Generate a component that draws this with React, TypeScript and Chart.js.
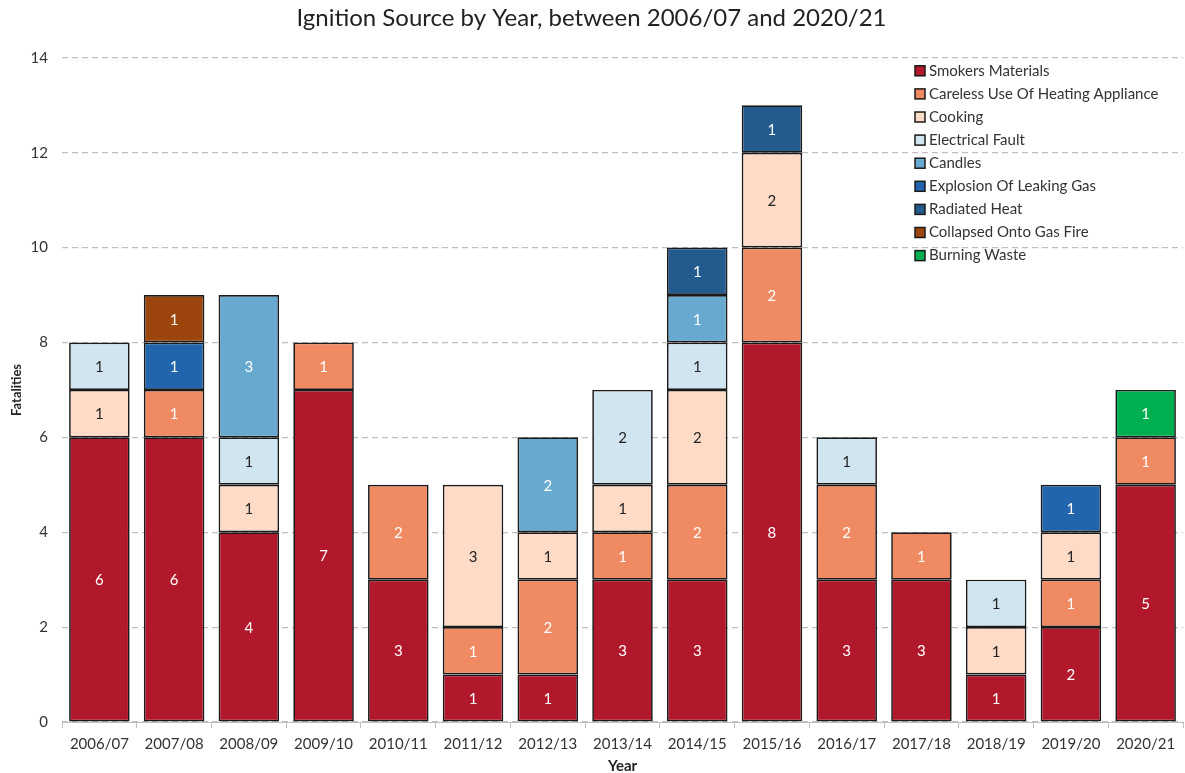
import React, { useEffect, useRef } from "react";
import { Chart, registerables } from "chart.js";

Chart.register(...registerables);

const years = [
  "2006/07", "2007/08", "2008/09", "2009/10", "2010/11", "2011/12", "2012/13", "2013/14",
  "2014/15", "2015/16", "2016/17", "2017/18", "2018/19", "2019/20", "2020/21",
];

const smokersMaterials = [6, 6, 4, 7, 3, 1, 1, 3, 3, 8, 3, 3, 1, 2, 5];
const carelessHeating = [0, 1, 0, 1, 2, 1, 2, 1, 2, 2, 2, 1, 0, 1, 1];
const cooking = [1, 0, 1, 0, 0, 3, 1, 1, 2, 2, 0, 0, 1, 1, 0];
const electricalFault = [1, 0, 1, 0, 0, 0, 0, 2, 1, 0, 1, 0, 1, 0, 0];
const candles = [0, 0, 3, 0, 0, 0, 2, 0, 1, 0, 0, 0, 0, 0, 0];
const explosionGas = [0, 1, 0, 0, 0, 0, 0, 0, 0, 0, 0, 0, 0, 1, 0];
const radiatedHeat = [0, 0, 0, 0, 0, 0, 0, 0, 1, 1, 0, 0, 0, 0, 0];
const collapsedGasFire = [0, 1, 0, 0, 0, 0, 0, 0, 0, 0, 0, 0, 0, 0, 0];
const burningWaste = [0, 0, 0, 0, 0, 0, 0, 0, 0, 0, 0, 0, 0, 0, 1];

const yTicks = [0, 2, 4, 6, 8, 10, 12, 14];

const FONT = "Lato, 'Liberation Sans', sans-serif";

const seriesDefs = [
  { label: "Smokers Materials", data: smokersMaterials, color: "#B2182B", text: "#ffffff" },
  { label: "Careless Use Of Heating Appliance", data: carelessHeating, color: "#EF8A62", text: "#ffffff" },
  { label: "Cooking", data: cooking, color: "#FDDBC7", text: "#222222" },
  { label: "Electrical Fault", data: electricalFault, color: "#D1E5F0", text: "#222222" },
  { label: "Candles", data: candles, color: "#67A9CF", text: "#ffffff" },
  { label: "Explosion Of Leaking Gas", data: explosionGas, color: "#2166AC", text: "#ffffff" },
  { label: "Radiated Heat", data: radiatedHeat, color: "#245B8E", text: "#ffffff" },
  { label: "Collapsed Onto Gas Fire", data: collapsedGasFire, color: "#9C460D", text: "#ffffff" },
  { label: "Burning Waste", data: burningWaste, color: "#00B050", text: "#ffffff" },
];

// Writes each non-zero segment's value in its middle
const segmentLabels = {
  id: "segmentLabels",
  afterDatasetsDraw(chart: any) {
    const ctx = chart.ctx;
    ctx.save();
    ctx.font = `15px ${FONT}`;
    ctx.textAlign = "center";
    ctx.textBaseline = "middle";
    chart.data.datasets.forEach((ds: any, i: number) => {
      const meta = chart.getDatasetMeta(i);
      meta.data.forEach((bar: any, j: number) => {
        const v = ds.data[j];
        if (!v) return;
        const { x, y, base } = bar.getProps(["x", "y", "base"], true);
        ctx.fillStyle = seriesDefs[i].text;
        ctx.fillText(String(v), x, (y + base) / 2 + 1);
      });
    });
    ctx.restore();
  },
};

// Vertical legend in the top-right corner of the plot
const cornerLegend = {
  id: "cornerLegend",
  afterDraw(chart: any) {
    const ctx = chart.ctx;
    const area = chart.chartArea;
    const left = area.right - 268;
    const top = area.top + 13;
    const step = 23.1;
    ctx.save();
    ctx.font = `15px ${FONT}`;
    ctx.textBaseline = "middle";
    ctx.textAlign = "left";
    seriesDefs.forEach((s, i) => {
      const cy = top + i * step;
      ctx.fillStyle = s.color;
      ctx.fillRect(left, cy - 5, 10, 10);
      ctx.strokeStyle = "#1a1a1a";
      ctx.lineWidth = 1.5;
      ctx.strokeRect(left, cy - 5, 10, 10);
      ctx.fillStyle = "#333333";
      ctx.fillText(s.label, left + 14, cy);
    });
    ctx.restore();
  },
};

export default function App() {
  const canvasRef = useRef<HTMLCanvasElement | null>(null);

  useEffect(() => {
    if (!canvasRef.current) return;
    const chart = new Chart(canvasRef.current, {
      type: "bar",
      data: {
        labels: years,
        datasets: seriesDefs.map((s) => ({
          label: s.label,
          data: s.data,
          backgroundColor: s.color,
          borderColor: "#1a1a1a",
          borderWidth: 1.7,
          borderSkipped: false,
          categoryPercentage: 0.81,
          barPercentage: 1,
        })),
      },
      options: {
        animation: false,
        responsive: false,
        maintainAspectRatio: false,
        layout: { padding: { left: 0, right: 2, top: 0, bottom: 0 } },
        plugins: {
          legend: { display: false },
          tooltip: { enabled: false },
          title: {
            display: true,
            text: "Ignition Source by Year, between 2006/07 and 2020/21",
            color: "#222222",
            font: { family: FONT, size: 24, weight: "normal" },
            padding: { top: 4, bottom: 25 },
          },
        },
        scales: {
          x: {
            stacked: true,
            offset: true,
            afterFit(axis: any) {
              axis.height = 51;
            },
            grid: {
              offset: true,
              drawOnChartArea: false,
              drawTicks: true,
              tickLength: 6,
              color: "#bfbfbf",
            },
            border: { display: true, color: "#bfbfbf", width: 1 },
            ticks: {
              color: "#333333",
              font: { family: FONT, size: 15 },
              padding: 7,
              maxRotation: 0,
            },
            title: {
              display: true,
              text: "Year",
              color: "#222222",
              font: { family: FONT, size: 15, weight: "bold" },
              padding: { top: 0, bottom: -2 },
            },
          },
          y: {
            stacked: true,
            min: 0,
            max: 14,
            afterBuildTicks(axis: any) {
              axis.ticks = yTicks.map((v) => ({ value: v }));
            },
            afterFit(axis: any) {
              axis.width = 62;
            },
            grid: {
              color: "#bfbfbf",
              lineWidth: 1.2,
              drawTicks: false,
            },
            border: { display: false, dash: [6, 4] },
            ticks: {
              color: "#333333",
              font: { family: FONT, size: 15 },
              padding: 14,
            },
            title: {
              display: true,
              text: "Fatalities",
              color: "#222222",
              font: { family: FONT, size: 13, weight: "bold" },
              padding: { top: 9, bottom: 0 },
            },
          },
        },
      },
      plugins: [segmentLabels, cornerLegend],
    } as any);
    return () => chart.destroy();
  }, []);

  return (
    <div style={{ position: "fixed", left: 0, top: 0, width: 1185, height: 773, background: "#ffffff" }}>
      <canvas ref={canvasRef} width={1185} height={773} style={{ display: "block" }} />
    </div>
  );
}
